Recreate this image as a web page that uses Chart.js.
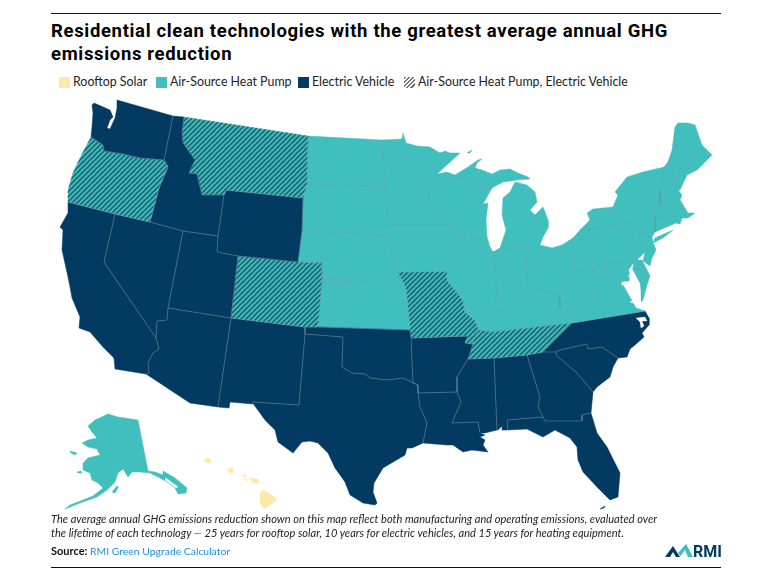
<!DOCTYPE html>
<html>
<head>
<meta charset="utf-8">
<title>Residential clean technologies</title>
<script src="https://cdn.jsdelivr.net/npm/chart.js@4/dist/chart.umd.min.js"></script>
<style>
html, body { margin: 0; padding: 0; background: #fff; }
body { width: 772px; height: 572px; position: relative; overflow: hidden; color: #111; }
#map { position: absolute; left: 0; top: 0; width: 772px; height: 572px; }
.rule { position: absolute; left: 51px; width: 670px; height: 1px; background: #111; }
#title { position: absolute; left: 51px; top: 20px; width: 690px; font: 700 18.5px/23px Roboto, sans-serif; letter-spacing: .66px; color: #000; }
#legend { position: absolute; left: 0; top: 73px; font: 12.4px/18px Lato, sans-serif; color: #222; }
#legend div { position: absolute; white-space: nowrap; }
#legend i { position: absolute; top: 4px; left: -14px; width: 11px; height: 11px; }
#note { position: absolute; left: 51px; top: 512px; width: 640px; font: italic 11.05px/14px Lato, sans-serif; color: #222; white-space: nowrap; }
#source { position: absolute; left: 51px; top: 544px; font: 10.4px/14px Lato, sans-serif; color: #1f8fd6; }
#source b { color: #111; font-size: 11px; }
#logo { position: absolute; left: 664px; top: 543px; }
</style>
</head>
<body>
<div class="rule" style="top:13px"></div>
<div class="rule" style="top:567px"></div>
<div id="title">Residential clean technologies with the greatest average annual GHG<br>emissions reduction</div>
<div id="legend"></div>
<canvas id="map" width="772" height="572"></canvas>
<div id="note">The average annual GHG emissions reduction shown on this map reflect both manufacturing and operating emissions, evaluated over<br>the lifetime of each technology — 25 years for rooftop solar, 10 years for electric vehicles, and 15 years for heating equipment.</div>
<div id="source"><b>Source:</b> RMI Green Upgrade Calculator</div>
<svg id="logo" width="58" height="16" viewBox="0 0 58 16">
  <path d="M1 14 L9 3 L16 14 L12 14 L9 9 L6 14 Z" fill="#023a62"/>
  <path d="M14 10 L22 1 L29 14 L24 14 L21 7 L16.5 13 Z" fill="#40bfbe"/>
  <text x="29" y="14" font-family="Roboto, sans-serif" font-weight="700" font-size="16" fill="#023a62">RMI</text>
</svg>
<script>
// legend / technology categories
const techNames = ['Rooftop Solar', 'Air-Source Heat Pump', 'Electric Vehicle', 'Air-Source Heat Pump, Electric Vehicle'];
const techColors = ['#ffe9a8', '#40bfbe', '#023a62', 'hatch'];

// state outlines, in map units
const WA = [[117,100],[173,116],[164,160],[140,158],[123,154],[104,151],[103,145],[91,137],[92,127],[93,113],[92,105],[94,103],[110,110],[113,117],[110,120],[107,128],[110,129],[115,118],[117,108]];
const OR = [[91,137],[103,145],[104,151],[123,154],[140,158],[164,160],[168,167],[159,188],[150,222],[115,214],[68,202],[68,190],[73,173],[80,158]];
const ID = [[173,116],[184,117],[182,133],[183,143],[195,160],[189,173],[197,174],[202,195],[224,195],[218,236],[183,231],[150,222],[159,188],[168,167],[164,160]];
const MT = [[184,117],[308,136],[307,184],[303,198],[226,190],[224,195],[202,195],[197,174],[189,173],[195,160],[183,143],[182,133]];
const WY = [[226,190],[303,198],[302,230],[298,262],[238,256],[217,252],[218,236],[224,195]];
const UT = [[183,231],[218,236],[217,252],[238,256],[231,318],[168,308]];
const CO = [[238,256],[298,262],[322,263],[322,280],[318,327],[305,327],[231,318]];
const NV = [[115,214],[150,222],[183,231],[168,308],[167,320],[157,321],[156,338],[104,262]];
const CA = [[68,202],[115,214],[104,262],[156,338],[159,349],[153,353],[148,363],[149,373],[146,374],[115,369],[114,358],[103,347],[90,332],[79,328],[80,317],[72,298],[70,287],[68,277],[62,250],[63,230],[60,227],[68,213]];
const AZ = [[168,308],[231,318],[218,407],[190,403],[146,374],[149,373],[148,363],[153,353],[159,349],[156,338],[157,321],[167,320]];
const NM = [[231,318],[305,327],[305,334],[299,405],[252,402],[253,404],[230,402],[229,408],[218,407]];
const TX = [[305,334],[343,337],[342,367],[352,373],[365,374],[370,378],[387,380],[403,378],[418,385],[418,393],[420,407],[427,423],[423,443],[412,448],[407,448],[405,455],[383,468],[374,483],[373,492],[377,503],[375,505],[363,503],[350,495],[345,482],[335,468],[328,453],[318,443],[310,441],[302,442],[293,453],[278,442],[275,430],[265,420],[252,402],[299,405]];
const OK = [[305,327],[318,327],[410,330],[411,338],[413,383],[418,385],[403,378],[387,380],[370,378],[365,374],[352,373],[342,367],[343,337],[305,334]];
const KS = [[322,280],[403,282],[406,290],[410,330],[318,327]];
const NE = [[302,230],[380,235],[387,237],[393,257],[397,272],[403,282],[322,280],[322,263],[298,262]];
const SD = [[307,184],[385,187],[388,225],[387,237],[380,235],[302,230],[303,198]];
const ND = [[308,136],[382,140],[385,187],[307,184]];
const MN = [[382,140],[402,139],[403,133],[406,143],[417,146],[430,147],[440,153],[445,151],[450,153],[460,153],[437,174],[428,190],[430,206],[447,220],[448,225],[388,225],[385,187]];
const WI = [[437,174],[447,172],[455,175],[485,186],[492,188],[483,204],[488,203],[486,220],[487,237],[456,239],[448,225],[447,220],[430,206],[428,190]];
const IA = [[388,225],[448,225],[456,239],[461,245],[462,253],[452,260],[447,271],[397,272],[393,257],[387,237]];
const IL = [[456,239],[487,237],[490,247],[493,252],[495,270],[497,295],[492,312],[485,322],[479,330],[475,320],[465,312],[463,300],[447,280],[447,271],[452,260],[462,253],[461,245]];
const MO = [[397,272],[447,271],[447,280],[463,300],[465,312],[475,320],[479,330],[473,340],[473,344],[465,343],[468,336],[411,338],[410,330],[406,290],[403,282]];
const AR = [[411,338],[468,336],[465,343],[473,344],[468,359],[463,367],[457,377],[457,392],[418,393],[418,385],[413,383]];
const TN = [[479,330],[493,332],[545,326],[572,323],[562,333],[543,352],[527,355],[494,358],[468,359],[473,344],[473,340]];
const KY = [[479,330],[485,322],[492,312],[503,310],[517,303],[528,287],[540,290],[560,297],[560,308],[570,312],[555,318],[545,326],[493,332]];
const VA = [[545,326],[555,318],[570,312],[583,308],[593,290],[603,277],[607,272],[617,280],[622,283],[636,308],[645,311],[572,323]];
const NC = [[572,323],[645,311],[649,318],[649,325],[642,333],[644,337],[635,345],[630,349],[627,357],[618,358],[602,347],[588,349],[587,344],[560,350],[556,352],[543,352],[562,333]];
const GA = [[527,355],[543,352],[556,352],[557,356],[577,373],[593,392],[591,413],[582,415],[582,421],[545,421],[543,417],[538,407],[540,397]];
const SC = [[556,352],[560,350],[587,344],[588,349],[602,347],[618,358],[613,367],[610,377],[597,387],[593,392],[577,373],[557,356]];
const AL = [[494,358],[527,355],[540,397],[538,407],[543,417],[507,420],[508,430],[502,430],[502,426],[498,430],[497,430]];
const MS = [[468,359],[494,358],[497,430],[485,433],[480,433],[478,422],[452,423],[461,402],[457,392],[457,377],[463,367]];
const LA = [[418,393],[457,392],[461,402],[452,423],[478,422],[480,433],[485,435],[480,437],[485,440],[483,445],[488,452],[472,450],[463,452],[453,445],[447,445],[423,443],[427,423],[420,407]];
const FL = [[507,420],[543,417],[545,421],[582,421],[582,415],[591,413],[597,433],[607,447],[620,473],[618,497],[610,500],[597,487],[583,472],[578,460],[577,447],[570,438],[555,430],[543,437],[527,429],[508,430]];
const FL_KEYS = [[600,509],[605,506],[604,508]];
const IN = [[493,252],[525,247],[528,287],[517,303],[503,310],[492,312],[497,295],[495,270]];
const MI_LOWER = [[515,182],[527,185],[535,192],[537,202],[530,210],[535,215],[543,207],[548,220],[548,228],[543,237],[540,245],[525,247],[493,252],[500,248],[506,230],[502,215],[503,198],[510,192]];
const MI_UPPER = [[455,175],[468,167],[478,160],[482,159],[477,163],[475,168],[482,170],[492,174],[500,170],[510,169],[518,173],[528,177],[530,179],[517,180],[503,182],[492,188],[485,186]];
const MI_ISLE = [[467,153],[472,150],[470,153]];
const OH = [[525,247],[540,245],[552,248],[562,245],[573,238],[575,270],[567,280],[560,297],[540,290],[528,287]];
const PA = [[573,238],[580,230],[633,223],[640,232],[638,243],[645,252],[637,260],[592,267],[575,270]];
const NY = [[580,230],[590,220],[587,213],[593,209],[613,207],[618,195],[615,192],[627,177],[643,172],[653,206],[655,218],[655,232],[652,237],[640,232],[633,223]];
const LONG_ISLAND = [[655,238],[673,230],[663,238],[653,243]];
const NJ = [[640,232],[652,237],[653,242],[656,250],[652,258],[650,266],[643,261],[645,252],[638,243]];
const DE = [[637,260],[642,260],[648,272],[650,276],[640,277]];
const MD = [[592,267],[637,260],[640,277],[650,276],[647,285],[643,300],[641,302],[641,290],[640,283],[633,270],[629,268],[629,283],[622,283],[617,280],[607,272],[606,267],[592,277]];
const WV = [[575,270],[592,267],[592,277],[606,267],[607,272],[603,277],[593,290],[583,308],[570,312],[560,308],[560,297],[567,280]];
const VT = [[643,172],[664,167],[660,190],[660,204],[653,206]];
const NH = [[664,167],[668,162],[670,162],[678,190],[682,195],[680,200],[660,204],[660,190]];
const ME = [[668,162],[672,150],[675,127],[678,123],[688,123],[695,125],[702,145],[712,155],[707,160],[697,170],[687,175],[680,190],[678,190],[670,162]];
const MA = [[653,206],[660,204],[680,200],[682,203],[688,213],[695,213],[688,218],[682,218],[675,213],[655,218]];
const CT = [[655,218],[675,213],[676,223],[655,232]];
const RI = [[675,213],[682,218],[680,224],[676,223]];
const AK = [[88,426],[95,420],[108,414],[118,417],[138,420],[148,471],[155,472],[163,475],[163,471],[175,478],[187,488],[186,493],[178,494],[175,488],[167,482],[160,478],[150,473],[140,472],[132,472],[128,477],[123,469],[118,473],[115,482],[107,490],[97,497],[80,503],[65,509],[70,505],[78,502],[93,496],[103,488],[98,483],[92,480],[90,473],[83,470],[83,463],[88,458],[100,455],[97,449],[88,447],[82,443],[88,440],[97,438],[92,432]];
const AK_KODIAK = [[112,492],[117,486],[118,488],[115,493]];
const AK_STLAWRENCE = [[70,451],[77,453],[75,455],[71,453]];
const AK_NUNIVAK = [[77,472],[81,471],[82,473],[78,473]];
const HI_KAUAI = [[204,460],[208,458],[211,460],[210,463],[206,463]];
const HI_OAHU = [[227,470],[232,467],[234,472],[230,473]];
const HI_MOLOKAI = [[241,475],[246,475],[246,477]];
const HI_LANAI = [[244,479],[247,479],[247,481]];
const HI_MAUI = [[250,478],[258,479],[259,483],[253,483]];
const HI_BIG = [[260,493],[263,490],[272,495],[277,500],[270,505],[264,509],[260,503]];
const CHESAPEAKE = [[633,264],[629,270],[632,277],[628,275],[632,281],[622,282],[622,285],[632,287],[637,292],[628,292],[638,298],[630,302],[640,305],[641,303],[639,292],[634,283],[635,277],[632,271]];
const PAMLICO = [[636,318],[645,317],[647,321],[642,321],[644,326],[641,328],[640,322]];
const AK_SOUND = [[166,478],[178,487],[176,488],[165,480]];

// technology per shape: index into techNames
const stateNames = ['WA','OR','ID','MT','WY','UT','CO','NV','CA','AZ','NM','TX','OK','KS','NE','SD','ND','MN','WI','IA','IL','MO','AR','TN','KY','VA','NC','GA','SC','AL','MS','LA','FL','FL keys','IN','MI lower','MI upper','Isle Royale','OH','PA','NY','Long Island','NJ','DE','MD','WV','VT','NH','ME','MA','CT','RI','AK','Kodiak','St Lawrence','Nunivak','Kauai','Oahu','Molokai','Lanai','Maui','Hawaii'];
const stateShapes = [WA,OR,ID,MT,WY,UT,CO,NV,CA,AZ,NM,TX,OK,KS,NE,SD,ND,MN,WI,IA,IL,MO,AR,TN,KY,VA,NC,GA,SC,AL,MS,LA,FL,FL_KEYS,IN,MI_LOWER,MI_UPPER,MI_ISLE,OH,PA,NY,LONG_ISLAND,NJ,DE,MD,WV,VT,NH,ME,MA,CT,RI,AK,AK_KODIAK,AK_STLAWRENCE,AK_NUNIVAK,HI_KAUAI,HI_OAHU,HI_MOLOKAI,HI_LANAI,HI_MAUI,HI_BIG];
const stateTech = [2,3,2,3,2,2,3,2,2,2,2,2,2,1,1,1,1,1,1,1,1,3,2,3,1,1,2,2,2,2,2,2,2,2,1,1,1,1,1,1,1,1,1,1,1,1,1,1,1,1,1,1,1,1,1,1,0,0,0,0,0,0];

function makeHatch() {
    const s = 5;
    const c = document.createElement('canvas');
    c.width = s; c.height = s;
    const g = c.getContext('2d');
    g.fillStyle = '#40bfbe';
    g.fillRect(0, 0, s, s);
    g.strokeStyle = '#1d6675';
    g.lineWidth = 1.6;
    g.beginPath();
    g.moveTo(-1, 1); g.lineTo(1, -1);
    g.moveTo(-1, s + 1); g.lineTo(s + 1, -1);
    g.moveTo(s - 1, s + 1); g.lineTo(s + 1, s - 1);
    g.stroke();
    return g.createPattern(c, 'repeat');
}
const hatch = makeHatch();

// html legend
const legendLeft = [73, 170, 312, 418];
techNames.forEach((name, i) => {
    const d = document.createElement('div');
    d.style.left = legendLeft[i] + 'px';
    d.textContent = name;
    const sw = document.createElement('i');
    sw.style.background = techColors[i] === 'hatch'
        ? 'repeating-linear-gradient(135deg,#777 0 1.5px,#fff 1.5px 3px)' : techColors[i];
    d.appendChild(sw);
    document.getElementById('legend').appendChild(d);
});

// which edge is shared by two shapes, and who draws it
const edgeOf = (a, b) => (a.x < b.x || (a.x === b.x && a.y < b.y)) ? `${a.x},${a.y}|${b.x},${b.y}` : `${b.x},${b.y}|${a.x},${a.y}`;
const edges = {};
stateShapes.forEach((shape, s) => {
    shape.forEach((p, i) => {
        const q = shape[(i + 1) % shape.length];
        const key = edgeOf({x: p[0], y: p[1]}, {x: q[0], y: q[1]});
        (edges[key] = edges[key] || []).push(s);
    });
});
const ownersOf = (ctx) => edges[edgeOf(ctx.p0.parsed, ctx.p1.parsed)] || [];
const isInner = (ctx) => {
    const owners = ownersOf(ctx);
    return owners.length > 1 && owners[0] === ctx.datasetIndex - stateShapes.length;
};
const bothTeal = (ctx) => ownersOf(ctx).every((s) => stateTech[s] === 1);

const closed = (shape) => shape.concat([shape[0]]);
const fillColor = (t) => techColors[t] === 'hatch' ? hatch : techColors[t];

const fills = stateShapes.map((shape, i) => ({
    label: stateNames[i],
    data: closed(shape),
    showLine: true,
    pointRadius: 0,
    fill: 'shape',
    backgroundColor: fillColor(stateTech[i]),
    borderColor: fillColor(stateTech[i]),
    borderWidth: 0.5,
    order: 3
}));
const lines = stateShapes.map((shape, i) => ({
    label: stateNames[i] + ' border',
    data: closed(shape),
    showLine: true,
    pointRadius: 0,
    fill: false,
    borderWidth: 0.6,
    borderColor: 'transparent',
    segment: {
        borderColor: (ctx) => !isInner(ctx) ? 'transparent' : bothTeal(ctx) ? 'rgba(110,135,140,0.75)' : 'rgba(135,155,170,0.75)',
        borderDash: (ctx) => bothTeal(ctx) ? [2, 1] : []
    },
    order: 1
}));
const water = [CHESAPEAKE, PAMLICO, AK_SOUND].map((shape) => ({
    label: 'water',
    data: closed(shape),
    showLine: true,
    pointRadius: 0,
    fill: 'shape',
    backgroundColor: '#fff',
    borderColor: '#fff',
    borderWidth: 0.3,
    order: 0
}));

new Chart(document.getElementById('map'), {
    type: 'scatter',
    data: { datasets: fills.concat(lines, water) },
    options: {
        responsive: false,
        animation: false,
        layout: { padding: 0 },
        scales: {
            x: { display: false, min: 0, max: 772 },
            y: { display: false, min: 0, max: 572, reverse: true }
        },
        plugins: {
            legend: { display: false },
            title: { display: false },
            tooltip: { enabled: false }
        }
    }
});
</script>
</body>
</html>
